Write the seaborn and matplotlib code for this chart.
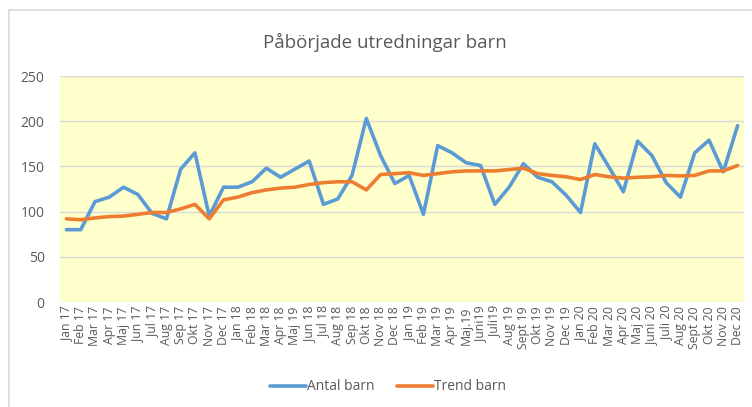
import matplotlib.pyplot as plt
import numpy as np
import pandas as pd
import seaborn as sns
from matplotlib.lines import Line2D
from matplotlib.patches import Rectangle

months = [
    "Jan 17", "Feb 17", "Mar 17", "Apr 17", "Maj 17", "Jun 17", "Jul 17", "Aug 17",
    "Sep 17", "Okt 17", "Nov 17", "Dec 17", "Jan 18", "Feb 18", "Mar 18", "Apr 18",
    "Maj 19", "Jun 18", "Jul 18", "Aug 18", "Sep 18", "Okt 18", "Nov 18", "Dec 18",
    "Jan 19", "Feb 19", "Mar 19", "Apr 19", "Maj.19", "Juni19", "Juli19", "Aug 19",
    "Sept 19", "Okt 19", "Nov 19", "Dec 19", "Jan 20", "Feb 20", "Mar 20", "Apr 20",
    "Maj 20", "Juni 20", "Juli 20", "Aug 20", "Sept 20", "Okt 20", "Nov 20", "Dec 20",
]

antal_barn = [
    80, 80, 111, 116, 127, 119, 98, 92, 147, 165, 95, 127,
    127, 133, 148, 138, 147, 156, 108, 114, 140, 203, 162, 131,
    140, 97, 173, 165, 154, 151, 108, 127, 153, 138, 133, 118,
    99, 175, 149, 122, 178, 162, 132, 116, 165, 179, 144, 195,
]

trend_barn = [
    92, 91, 93, 94.5, 95, 97, 99, 99, 103, 108, 92, 113,
    116, 121, 124, 126, 127, 130, 132, 133, 133, 124, 141, 142,
    143, 140, 142, 144, 145, 145, 145, 146.5, 148, 142, 140, 138.5,
    135.5, 141, 138.5, 137, 138, 138.5, 140, 139.5, 140, 145, 145, 151,
]

df = pd.DataFrame({
    "idx": np.tile(np.arange(len(months)), 2),
    "value": antal_barn + trend_barn,
    "series": ["Antal barn"] * len(months) + ["Trend barn"] * len(months),
})

sns.set_style("white")
plt.rcParams["font.family"] = ["Open Sans", "DejaVu Sans"]

fig = plt.figure(figsize=(7.52, 4.07), dpi=100)
W, H = 752, 407
ax = fig.add_axes([60 / W, 1 - 302 / H, (744 - 60) / W, (302 - 76) / H])

# chart border (cropped on right and bottom in the original)
fig.patches.append(Rectangle((9 / W, -0.1), 1.2, 1 - 10 / H + 0.1,
                             transform=fig.transFigure, fill=False,
                             edgecolor="#d9d9d9", linewidth=1.2))

ax.set_facecolor("#ffffcc")
sns.lineplot(data=df, x="idx", y="value", hue="series",
             palette={"Antal barn": "#5b9bd5", "Trend barn": "#ed7d31"},
             linewidth=2.6, ax=ax, legend=False)

ax.set_xlim(-0.45, len(months) - 0.55)
ax.set_ylim(0, 250)
ax.set_yticks(np.arange(0, 251, 50))
ax.set_xticks(np.arange(len(months)))
ax.set_xticklabels(months, rotation=90, fontsize=8.8, color="#595959")
ax.tick_params(axis="y", labelsize=10, colors="#595959", length=0, pad=11)
ax.tick_params(axis="x", length=0, pad=3)
ax.yaxis.grid(True, color="#d9d9d9", linewidth=1)
ax.set_axisbelow(True)
for s in ax.spines.values():
    s.set_visible(False)
ax.set_xlabel("")
ax.set_ylabel("")

fig.text(385 / W, 1 - 42 / H, "Påbörjade utredningar barn", ha="center",
         va="center", fontsize=13.5, color="#595959")

handles = [Line2D([], [], color="#5b9bd5", linewidth=2.6),
           Line2D([], [], color="#ed7d31", linewidth=2.6)]
fig.legend(handles, ["Antal barn", "Trend barn"], loc="center",
           bbox_to_anchor=(388 / W, 1 - 387 / H), ncol=2, frameon=False,
           fontsize=10, labelcolor="#595959", handlelength=2.6,
           handletextpad=0.1, columnspacing=1.6)

fig.savefig("out.png", dpi=100)
